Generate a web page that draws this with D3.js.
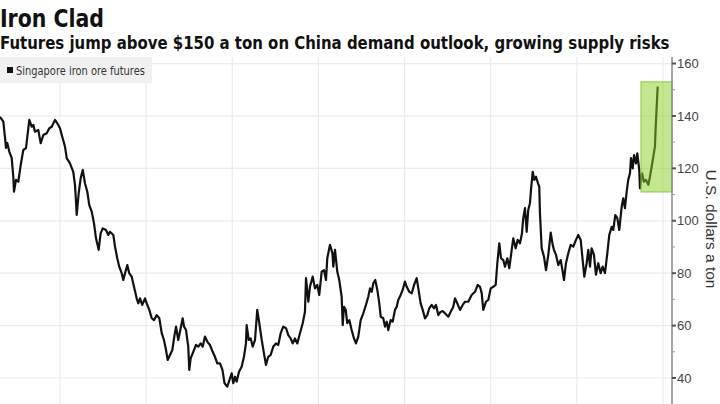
<!DOCTYPE html>
<html><head><meta charset="utf-8">
<script src="https://cdn.jsdelivr.net/npm/d3@7"></script>
<style>
html,body{margin:0;padding:0;background:#fff;}
svg{display:block;}
</style></head>
<body>
<svg id="chart" width="720" height="404"></svg>
<script>
// ---- Data ----
const title = "Iron Clad";
const subtitle = "Futures jump above $150 a ton on China demand outlook, growing supply risks";
const seriesName = "Singapore iron ore futures";
const yAxisLabel = "U.S. dollars a ton";
const yTicks = [40, 60, 80, 100, 120, 140, 160];
const yMinorTicks = [50, 70, 90, 110, 130, 150];
const yearGrid = [2014, 2015, 2016, 2017, 2018, 2019, 2020, 2021];
// highlight box: [start year, end year] and [low, high]
const highlightYears = [2020.745, 2021.105];
const highlightValues = [111.0, 153.0];

// dates as decimal years
const dates = [
2013.303,2013.342,2013.362,2013.373,2013.388,2013.411,2013.439,2013.458,2013.466,2013.489,
2013.516,2013.544,2013.574,2013.605,2013.644,2013.671,2013.690,2013.710,2013.748,2013.776,
2013.806,2013.846,2013.876,2013.904,2013.942,2013.969,2014.000,2014.031,2014.058,2014.078,
2014.116,2014.154,2014.174,2014.186,2014.194,2014.217,2014.240,2014.264,2014.290,2014.317,
2014.340,2014.368,2014.395,2014.418,2014.449,2014.472,2014.496,2014.534,2014.561,2014.580,
2014.619,2014.639,2014.665,2014.688,2014.716,2014.735,2014.755,2014.781,2014.804,2014.832,
2014.859,2014.890,2014.909,2014.929,2014.955,2014.987,2015.007,2015.037,2015.065,2015.091,
2015.123,2015.153,2015.181,2015.207,2015.231,2015.250,2015.277,2015.304,2015.327,2015.347,
2015.373,2015.401,2015.424,2015.440,2015.463,2015.489,2015.501,2015.517,2015.547,2015.579,
2015.606,2015.633,2015.657,2015.683,2015.710,2015.741,2015.773,2015.799,2015.826,2015.857,
2015.886,2015.910,2015.942,2015.974,2015.993,2016.012,2016.032,2016.051,2016.078,2016.109,
2016.136,2016.159,2016.167,2016.191,2016.214,2016.237,2016.264,2016.290,2016.314,2016.342,
2016.368,2016.391,2016.418,2016.446,2016.476,2016.508,2016.534,2016.562,2016.592,2016.624,
2016.650,2016.678,2016.701,2016.728,2016.755,2016.786,2016.818,2016.844,2016.856,2016.883,
2016.902,2016.934,2016.960,2016.987,2017.010,2017.038,2017.065,2017.088,2017.103,2017.134,
2017.163,2017.173,2017.193,2017.219,2017.242,2017.270,2017.282,2017.297,2017.317,2017.335,
2017.359,2017.386,2017.413,2017.436,2017.463,2017.491,2017.521,2017.552,2017.579,2017.599,
2017.619,2017.637,2017.660,2017.684,2017.707,2017.723,2017.753,2017.773,2017.793,2017.811,
2017.839,2017.862,2017.889,2017.909,2017.927,2017.955,2017.978,2018.005,2018.025,2018.055,
2018.083,2018.110,2018.141,2018.160,2018.187,2018.211,2018.237,2018.264,2018.287,2018.315,
2018.342,2018.365,2018.392,2018.420,2018.446,2018.469,2018.508,2018.536,2018.566,2018.586,
2018.612,2018.644,2018.675,2018.702,2018.740,2018.779,2018.818,2018.849,2018.876,2018.896,
2018.914,2018.945,2018.972,2019.000,2019.030,2019.058,2019.077,2019.100,2019.120,2019.146,
2019.166,2019.193,2019.216,2019.244,2019.262,2019.290,2019.313,2019.340,2019.363,2019.378,
2019.398,2019.418,2019.436,2019.456,2019.468,2019.488,2019.506,2019.526,2019.549,2019.564,
2019.572,2019.592,2019.619,2019.642,2019.669,2019.697,2019.720,2019.735,2019.758,2019.785,
2019.813,2019.836,2019.851,2019.874,2019.901,2019.929,2019.959,2019.990,2020.017,2020.045,
2020.068,2020.087,2020.114,2020.133,2020.153,2020.172,2020.199,2020.222,2020.249,2020.277,
2020.300,2020.327,2020.354,2020.377,2020.405,2020.423,2020.447,2020.470,2020.493,2020.521,
2020.539,2020.559,2020.579,2020.597,2020.617,2020.629,2020.649,2020.664,2020.687,2020.702,
2020.725,2020.733,2020.757,2020.780,2020.803,2020.830,2020.849,2020.869,2020.888,2020.907,
2020.916,2020.931,2020.939
];
const prices = [
139.7,137.8,131.6,127.8,129.7,126.4,124.0,116.8,111.1,115.6,
114.9,121.3,127.0,127.7,138.5,135.9,136.6,134.0,134.7,129.6,
132.7,133.4,135.3,135.9,138.5,137.2,135.3,131.5,128.3,123.9,
121.9,118.7,113.7,107.3,102.2,110.5,116.2,119.4,114.3,111.1,
106.0,103.5,99.0,93.3,88.9,95.2,97.1,96.5,94.6,95.8,
94.6,90.1,85.7,82.5,80.0,77.4,80.0,83.1,80.0,78.7,
74.8,70.4,68.5,70.4,67.9,70.4,68.5,66.0,62.8,62.1,
64.0,62.8,57.1,54.5,50.7,46.9,48.8,50.7,55.8,59.6,
54.5,59.0,62.8,59.6,58.3,52.0,43.1,47.5,50.0,52.6,
52.0,53.2,52.0,55.8,53.9,52.6,50.0,48.1,45.6,45.6,
43.1,38.0,36.7,39.9,41.8,38.0,40.5,38.6,42.4,44.3,
48.1,53.2,60.2,54.5,55.1,52.0,54.5,66.0,60.9,54.5,
49.4,45.0,48.1,48.8,52.0,53.2,52.6,57.1,59.6,59.0,
56.4,55.1,53.2,55.1,53.2,57.1,60.9,65.3,78.1,69.1,
74.8,78.7,74.2,75.5,71.7,80.6,81.2,77.4,85.7,90.8,
87.6,82.5,88.9,80.6,77.4,71.0,60.2,67.2,66.0,60.9,
62.1,58.3,55.1,53.2,55.8,62.1,64.7,67.9,71.0,74.2,
72.9,76.1,77.4,73.6,68.5,63.4,62.8,59.6,61.5,58.3,
62.1,61.5,66.0,67.2,69.8,71.7,73.6,76.8,74.8,72.9,
72.3,75.5,78.1,74.2,68.5,66.0,62.8,64.0,66.6,67.9,
66.6,67.9,64.0,65.3,65.5,64.7,63.4,65.3,67.2,70.4,
68.5,66.0,67.9,69.1,69.1,71.7,72.9,75.5,74.8,72.3,
66.0,69.1,69.8,74.2,74.8,75.5,83.8,91.4,85.7,85.0,
82.5,85.7,81.9,88.9,93.3,89.5,92.7,91.4,95.2,101.0,
104.8,95.8,104.1,106.7,111.8,118.7,115.6,116.8,114.3,113.0,
102.9,89.5,86.3,81.2,87.0,95.5,90.8,88.9,87.0,83.1,
85.0,80.6,77.4,83.8,87.6,90.8,90.1,92.7,94.6,92.7,
85.0,78.7,83.8,88.9,82.5,89.5,87.0,79.4,83.8,80.0,
82.5,80.0,87.6,94.6,97.7,96.5,102.2,101.0,96.5,105.4,
108.6,104.8,111.1,115.6,118.1,123.9,120.0,125.1,121.9,125.7,
119.4,112.4,118.1,114.9,115.6,113.7,116.8,120.6,124.5,128.3,
136.0,146.0,151.2
];

// ---- Chart ----
const svg = d3.select("#chart");
const plotTop = 57, plotBottom = 404, plotLeft = 0, plotRight = 672;

const x = d3.scaleLinear().domain([2013.3035, 2021.105]).range([plotLeft, plotRight]);
const y = d3.scaleLinear().domain([30.08, 162.5]).range([plotBottom, plotTop]);

// gridlines
const grid = svg.append("g");
grid.selectAll("line.h").data(yTicks).join("line")
  .attr("x1", plotLeft).attr("x2", plotRight)
  .attr("y1", d => y(d)).attr("y2", d => y(d))
  .attr("stroke", "#ebebeb").attr("stroke-width", 1.2);
grid.selectAll("line.v").data(yearGrid).join("line")
  .attr("x1", d => x(d)).attr("x2", d => x(d))
  .attr("y1", plotTop).attr("y2", plotBottom)
  .attr("stroke", "#ebebeb").attr("stroke-width", 1.2);

// line
const data = dates.map((d, i) => ({t: d, v: prices[i]}));
const line = d3.line().x(d => x(d.t)).y(d => y(d.v));
svg.append("path").datum(data)
  .attr("d", line)
  .attr("fill", "none")
  .attr("stroke", "#111")
  .attr("stroke-width", 2.2)
  .attr("stroke-linejoin", "round");

// highlight box
svg.append("rect")
  .attr("x", x(highlightYears[0])).attr("width", x(highlightYears[1]) - x(highlightYears[0]))
  .attr("y", y(highlightValues[1])).attr("height", y(highlightValues[0]) - y(highlightValues[1]))
  .attr("fill", "rgb(135,208,30)").attr("fill-opacity", 0.5)
  .attr("stroke", "#8cc63f").attr("stroke-width", 1);

// right axis
const axisG = svg.append("g");
axisG.append("line")
  .attr("x1", plotRight).attr("x2", plotRight)
  .attr("y1", plotTop).attr("y2", plotBottom)
  .attr("stroke", "#8a8a8a").attr("stroke-width", 1.5);
axisG.selectAll("line.maj").data(yTicks).join("line")
  .attr("x1", plotRight).attr("x2", plotRight + 4)
  .attr("y1", d => y(d)).attr("y2", d => y(d))
  .attr("stroke", "#555").attr("stroke-width", 2);
axisG.selectAll("line.min").data(yMinorTicks).join("line")
  .attr("x1", plotRight).attr("x2", plotRight + 3)
  .attr("y1", d => y(d)).attr("y2", d => y(d))
  .attr("stroke", "#999").attr("stroke-width", 1);
axisG.selectAll("text").data(yTicks).join("text")
  .attr("x", plotRight + 5).attr("y", d => y(d))
  .attr("dy", "0.35em")
  .attr("font-family", "'Liberation Sans', Arial, sans-serif")
  .attr("font-size", 13)
  .attr("fill", "#444")
  .text(d => d);

// axis title
svg.append("text")
  .attr("transform", `translate(706,229) rotate(90)`)
  .attr("text-anchor", "middle")
  .attr("font-family", "'Liberation Sans', Arial, sans-serif")
  .attr("font-size", 15.5)
  .attr("fill", "#333")
  .text(yAxisLabel);

// helper: fit a text to a target width by horizontal scaling
function fitText(sel, xPos, yPos, targetW) {
  const w = sel.node().getComputedTextLength();
  const s = Math.min(1.3, targetW / w);
  sel.attr("x", 0).attr("y", 0)
     .attr("transform", `translate(${xPos},${yPos}) scale(${s},1)`);
}

// legend
svg.append("rect").attr("x", 0).attr("y", 57).attr("width", 152).attr("height", 26)
  .attr("fill", "#f1f1f1");
svg.append("rect").attr("x", 7).attr("y", 67).attr("width", 6).attr("height", 6).attr("fill", "#111");
const leg = svg.append("text")
  .attr("font-family", "'Liberation Sans Narrow', 'DejaVu Sans Condensed', Arial, sans-serif")
  .attr("font-size", 11.5).attr("fill", "#333")
  .text(seriesName);
fitText(leg, 16, 74.5, 129);

// titles
const t1 = svg.append("text")
  .attr("font-family", "'Liberation Sans Narrow', 'DejaVu Sans Condensed', Arial, sans-serif")
  .attr("font-weight", "bold").attr("font-size", 25).attr("fill", "#111")
  .text(title);
fitText(t1, 0, 27, 104);
const t2 = svg.append("text")
  .attr("font-family", "'Liberation Sans Narrow', 'DejaVu Sans Condensed', Arial, sans-serif")
  .attr("font-weight", "bold").attr("font-size", 18).attr("fill", "#111")
  .text(subtitle);
fitText(t2, 0, 48.5, 670);
</script>
</body></html>
